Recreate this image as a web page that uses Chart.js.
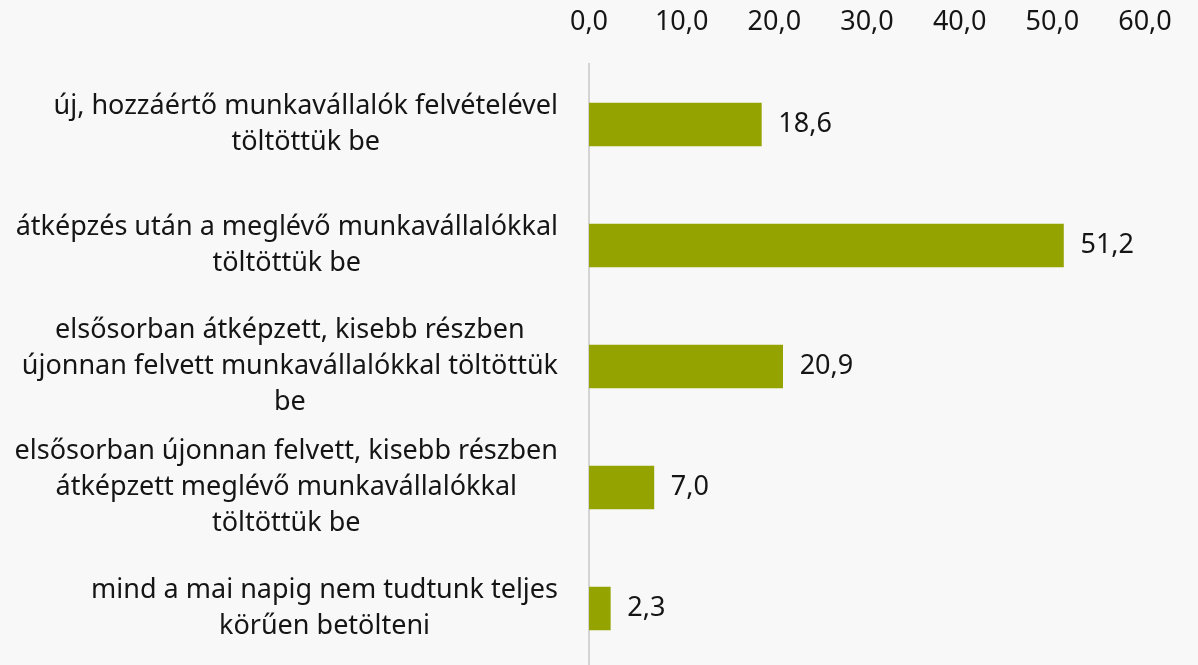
<!DOCTYPE html>
<html>
<head>
<meta charset="utf-8">
<script src="https://cdn.jsdelivr.net/npm/chart.js@4/dist/chart.umd.min.js"></script>
<style>
  html, body { margin: 0; padding: 0; background: #f8f8f8; overflow: hidden; }
  #wrap { width: 1198px; height: 669px; position: relative; }
</style>
</head>
<body>
<div id="wrap"><canvas id="c"></canvas></div>
<script>
const categories = [
  ["új, hozzáértő munkavállalók felvételével", "töltöttük be"],
  ["átképzés után a meglévő munkavállalókkal", "töltöttük be"],
  ["elsősorban átképzett, kisebb részben", "újonnan felvett munkavállalókkal töltöttük", "be"],
  ["elsősorban újonnan felvett, kisebb részben", "átképzett meglévő munkavállalókkal", "töltöttük be"],
  ["mind a mai napig nem tudtunk teljes", "körűen betölteni"]
];
const values = [18.6, 51.2, 20.9, 7.0, 2.3];
const xTicks = [0, 10, 20, 30, 40, 50, 60];

const FONT = '"Noto Sans", sans-serif';
const FSIZE = 27;
const fmt = v => v.toFixed(1).replace('.', ',');

const labelPlugin = {
  id: 'customLabels',
  afterDatasetsDraw(chart) {
    const ctx = chart.ctx;
    const meta = chart.getDatasetMeta(0);
    const yScale = chart.scales.y;
    ctx.save();
    ctx.font = FSIZE + 'px ' + FONT;
    ctx.fillStyle = '#151515';
    ctx.textBaseline = 'middle';
    meta.data.forEach((bar, i) => {
      ctx.textAlign = 'left';
      ctx.fillText(fmt(values[i]), bar.x + 17, bar.y);
    });
    const right = yScale.right - 31;
    const lh = 36;
    categories.forEach((lines, i) => {
      const yc = yScale.getPixelForTick(i);
      const w = Math.max(...lines.map(l => ctx.measureText(l).width));
      const cx = right - w / 2;
      ctx.textAlign = 'center';
      const y0 = yc - (lines.length - 1) * lh / 2;
      lines.forEach((l, j) => ctx.fillText(l, cx, y0 + j * lh));
    });
    ctx.restore();
  }
};

new Chart(document.getElementById('c'), {
  type: 'bar',
  data: {
    labels: categories,
    datasets: [{
      data: values,
      backgroundColor: '#94a300',
      barThickness: 43
    }]
  },
  options: {
    indexAxis: 'y',
    responsive: true,
    maintainAspectRatio: false,
    animation: false,
    layout: { padding: { left: 0, right: 53, top: 0, bottom: 0 } },
    plugins: { legend: { display: false }, tooltip: { enabled: false } },
    scales: {
      x: {
        position: 'top',
        min: 0, max: 60,
        afterBuildTicks(s) { s.ticks = xTicks.map(v => ({ value: v })); },
        afterFit(s) { s.height = 64; },
        grid: { display: false, drawTicks: false },
        border: { display: false },
        ticks: {
          font: { family: FONT, size: FSIZE },
          color: '#151515',
          padding: 25,
          maxRotation: 0,
          autoSkip: false,
          callback: v => fmt(v)
        }
      },
      y: {
        afterFit(s) { s.width = 589; },
        grid: { display: false, drawTicks: false },
        border: { display: true, color: '#d4d4d4', width: 2 },
        ticks: { display: false }
      }
    }
  },
  plugins: [labelPlugin]
});
</script>
</body>
</html>
